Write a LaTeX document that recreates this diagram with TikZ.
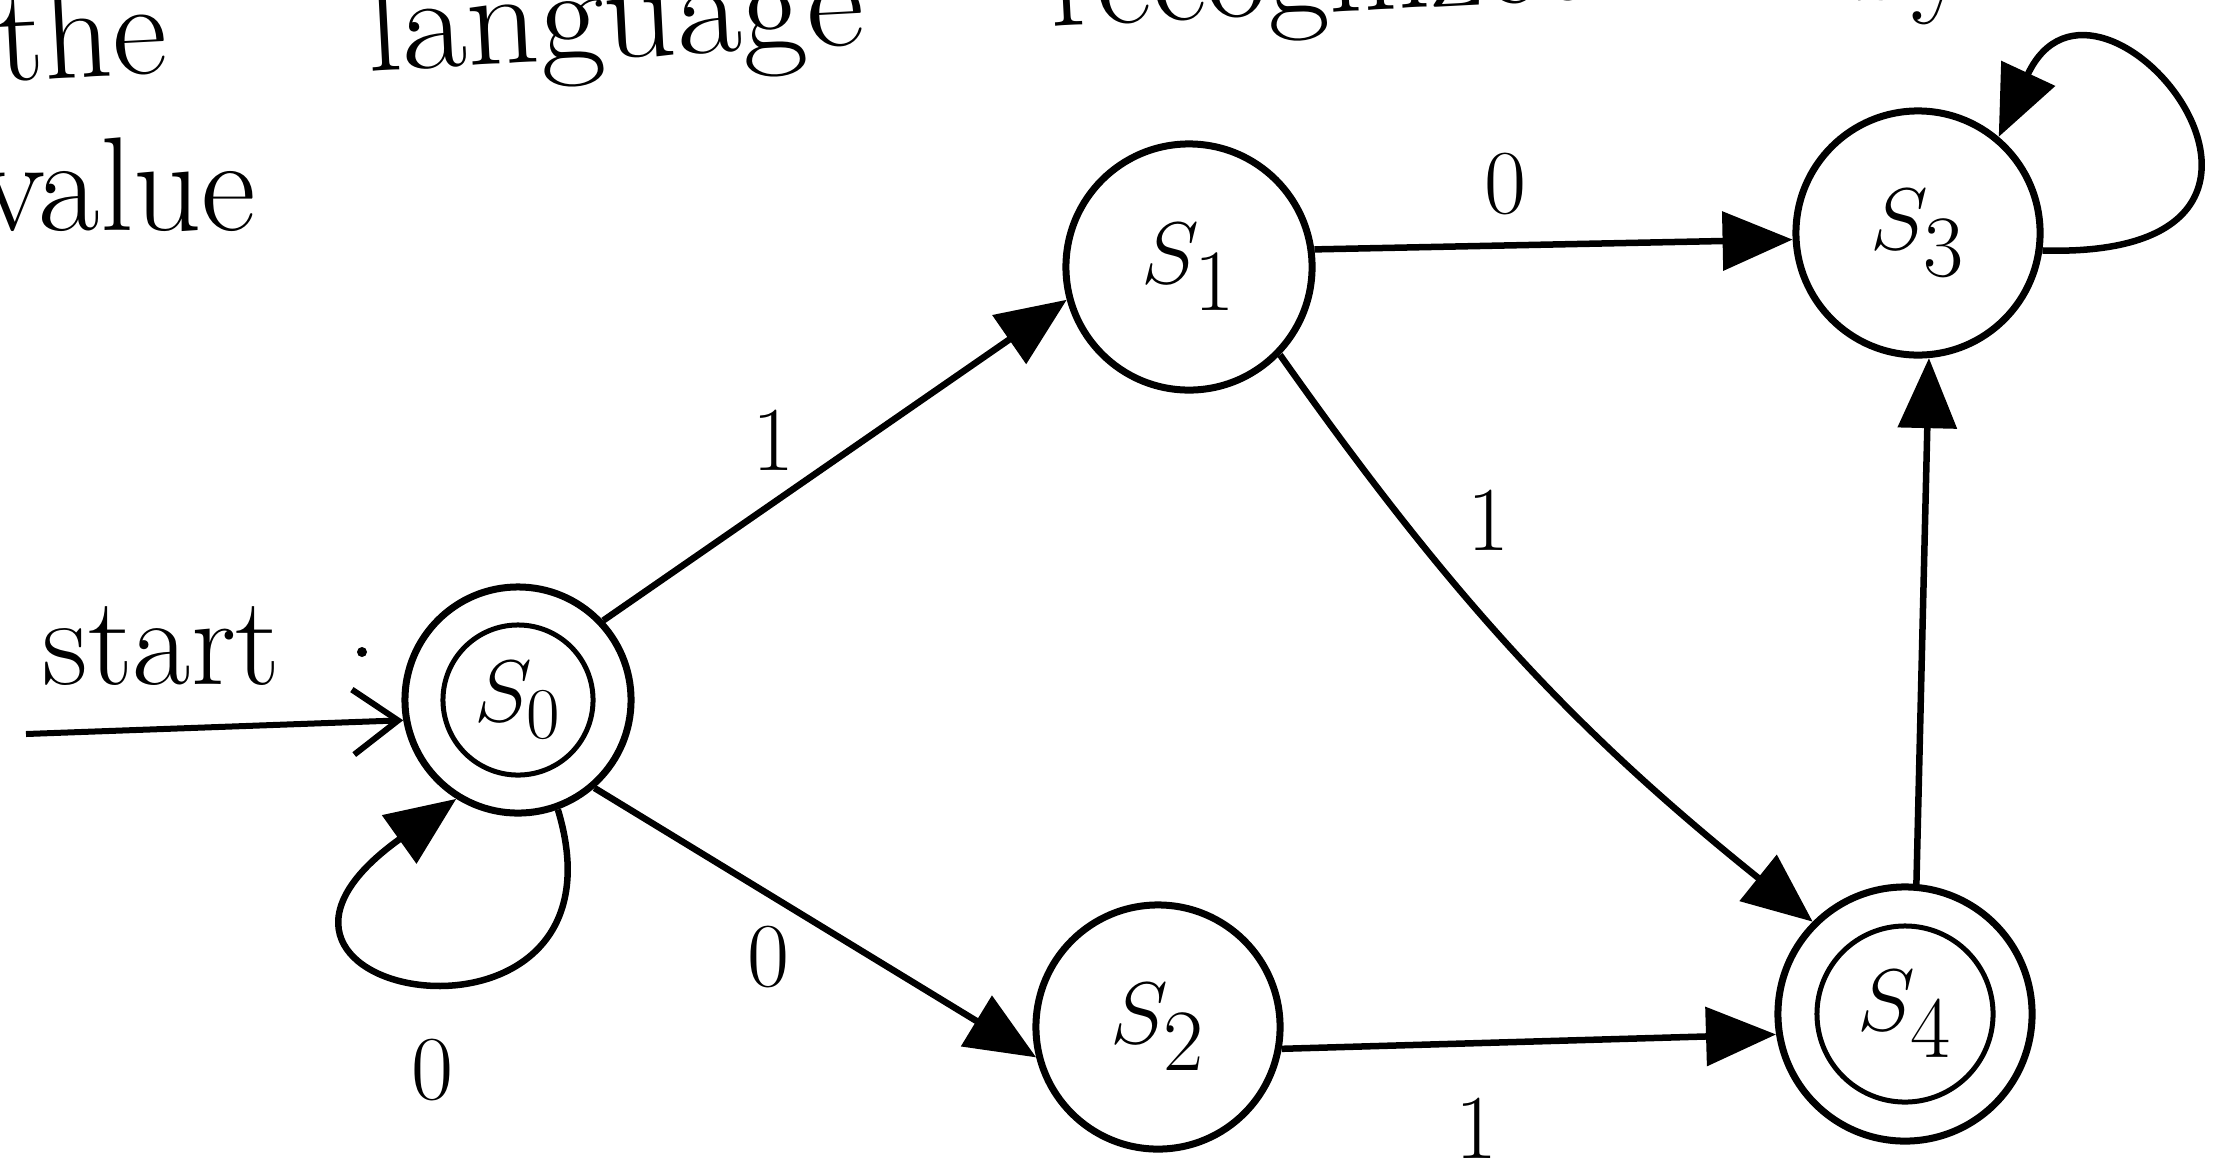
\documentclass[tikz,border=0pt]{standalone}
\usetikzlibrary{arrows.meta}
\begin{document}
\begin{tikzpicture}[x=0.01cm,y=-0.01cm,
  edge/.style={line width=0.065cm, -{Triangle[length=7mm,width=5.8mm]}},
  statecirc/.style={circle, draw, line width=0.07cm, inner sep=0pt},
  innercirc/.style={circle, draw, line width=0.05cm, inner sep=0pt},
  lbl/.style={font=\fontsize{26}{30}\selectfont, inner sep=0pt},
  wordtxt/.style={font=\fontsize{38}{44}\selectfont, inner sep=0pt},
  slabel/.style={font=\fontsize{35}{40}\selectfont}
]
\useasboundingbox (0,0) rectangle (2225,1160);
\fill[white] (0,0) rectangle (2225,1160);

% words of the heading (partly outside the page)
\node[wordtxt, rotate=3, anchor=base west] (wthe) at (-2,82) {the};
\node[wordtxt, rotate=3, anchor=base, xscale=1.06] (wlang) at (617,58) {language};
\node[wordtxt, rotate=3, anchor=base west] (wrec) at (1051,27) {recognized};
\node[wordtxt, rotate=3, anchor=base west] (wby) at (1845,2) {by};
\node[wordtxt, anchor=base west] (wval) at (-20,230) {value};
\node[wordtxt, font=\fontsize{36}{42}\selectfont, anchor=base west] (wstart) at (42,684) {start};
\fill (362,652) circle[radius=0.5mm];

% states
\node[statecirc, minimum size=2.26cm] (S0) at (518,700) {};
\node[innercirc, minimum size=1.5cm, font=\fontsize{29}{32}\selectfont] (S0i) at (518,700) {$S_0$};
\node[statecirc, minimum size=2.46cm, slabel] (S1) at (1189,267) {$S_1$};
\node[statecirc, minimum size=2.44cm, slabel] (S2) at (1158,1027) {$S_2$};
\node[statecirc, minimum size=2.44cm, slabel] (S3) at (1918,233) {$S_3$};
\node[statecirc, minimum size=2.54cm] (S4) at (1905,1014) {};
\node[innercirc, minimum size=1.76cm, font=\fontsize{33}{36}\selectfont] (S4i) at (1905,1014) {$S_4$};

% start arrow
\coordinate (st) at (26,734);
\draw[line width=0.06cm, -{Straight Barb[length=4.5mm,width=6.5mm]}] (st) -- (S0.190);

% transitions
\draw[edge] (S0.43) -- (S1.195);
\draw[edge] (S0.-49) -- (S2.-166);
\draw[edge] (S1.8) -- (S3.183);
\draw[edge] (S1.-44) to[bend right=8] (S4.135);
\draw[edge] (S2.-10) -- (S4.-171);
\draw[edge] (S4.85) -- (S3.-85);
\draw[edge] (S0.-70) .. controls +(82,270) and +(-281,200) .. (S0.-122);
\draw[edge] (S3.-8) .. controls +(330,10) and +(100,-215) .. (S3.50);

% labels
\node[lbl] (l01) at (773,440) {1};
\node[lbl] (l02) at (768,957) {0};
\node[lbl] (l00) at (432,1070) {0};
\node[lbl] (l13) at (1505,184) {0};
\node[lbl] (l14) at (1488,520) {1};
\node[lbl] (l24) at (1476,1128) {1};
\end{tikzpicture}
\end{document}
